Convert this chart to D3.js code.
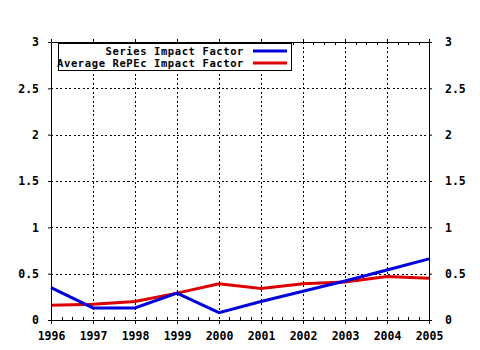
<!DOCTYPE html>
<html>
<head>
<meta charset="utf-8">
<script src="https://cdn.jsdelivr.net/npm/d3@7"></script>
<style>
  body { margin: 0; background: #fff; }
  text { font-family: "DejaVu Sans Mono", monospace; font-weight: bold; font-size: 11.5px; fill: #000; }
</style>
</head>
<body>
<div id="chart"></div>
<script>
// datos
const years = [1996, 1997, 1998, 1999, 2000, 2001, 2002, 2003, 2004, 2005];
const seriesImpact = [0.35, 0.13, 0.13, 0.29, 0.08, 0.20, 0.31, 0.42, 0.54, 0.66];
const avgImpact = [0.16, 0.17, 0.20, 0.29, 0.39, 0.34, 0.39, 0.41, 0.47, 0.45];
const yTicks = [0, 0.5, 1, 1.5, 2, 2.5, 3];
const seriesNames = ["Series Impact Factor", "Average RePEc Impact Factor"];
const colors = ["#0000dd", "#dd0000"];

const width = 480, height = 350;
const mLeft = 51, mRight = 429, mTop = 42, mBottom = 320;

const svg = d3.select("#chart").append("svg")
    .attr("width", width)
    .attr("height", height);

const x = d3.scaleLinear().domain([1996, 2005]).range([mLeft, mRight]);
const y = d3.scaleLinear().domain([0, 3]).range([mBottom, mTop]);

// rejilla punteada
const grid = svg.append("g")
    .attr("stroke", "#000")
    .attr("stroke-width", 1)
    .attr("stroke-dasharray", "2,2.5")
    .attr("shape-rendering", "crispEdges");
grid.selectAll("line.v").data(years.slice(1, -1)).enter().append("line")
    .attr("class", "v")
    .attr("x1", d => Math.round(x(d)) + 0.5).attr("x2", d => Math.round(x(d)) + 0.5)
    .attr("y1", mTop).attr("y2", mBottom);
grid.selectAll("line.h").data(yTicks.slice(1, -1)).enter().append("line")
    .attr("class", "h")
    .attr("x1", mLeft).attr("x2", mRight)
    .attr("y1", d => Math.round(y(d)) + 0.5).attr("y2", d => Math.round(y(d)) + 0.5);

// series
const line = d3.line().x((d, i) => x(years[i])).y(d => y(d));
[avgImpact, seriesImpact].forEach((vals, k) => {
    svg.append("path")
        .datum(vals)
        .attr("d", line)
        .attr("fill", "none")
        .attr("stroke", k === 0 ? colors[1] : colors[0])
        .attr("stroke-width", 3);
});

// ejes
const bottomAxis = d3.axisBottom(x).tickValues(years).tickFormat(d3.format("d")).tickSize(4).tickSizeOuter(0).tickPadding(8);
const topAxis = d3.axisTop(x).tickValues(years).tickFormat("").tickSize(3).tickSizeOuter(0);
const leftAxis = d3.axisLeft(y).tickValues(yTicks).tickFormat(d => d).tickSize(3).tickSizeOuter(0).tickPadding(9);
const rightAxis = d3.axisRight(y).tickValues(yTicks).tickFormat(d => d).tickSize(3).tickSizeOuter(0).tickPadding(13);

svg.append("g").attr("transform", `translate(0,${mBottom})`).call(bottomAxis);
svg.append("g").attr("transform", `translate(0,${mTop})`).call(topAxis);
svg.append("g").attr("transform", `translate(${mLeft},0)`).call(leftAxis);
svg.append("g").attr("transform", `translate(${mRight},0)`).call(rightAxis);

// marcas menores en x
const minor = [];
years.slice(0, -1).forEach(yr => { for (let j = 1; j < 4; j++) minor.push(yr + j / 4); });
svg.append("g").selectAll("line").data(minor).enter().append("line")
    .attr("x1", d => Math.round(x(d)) + 0.5).attr("x2", d => Math.round(x(d)) + 0.5)
    .attr("y1", mBottom).attr("y2", mBottom - 3)
    .attr("stroke", "#000");
svg.append("g").selectAll("line").data(minor).enter().append("line")
    .attr("x1", d => Math.round(x(d)) + 0.5).attr("x2", d => Math.round(x(d)) + 0.5)
    .attr("y1", mTop).attr("y2", mTop + 3)
    .attr("stroke", "#000");

svg.selectAll(".domain").attr("stroke", "#000");
svg.selectAll(".tick line").attr("stroke", "#000");
svg.selectAll(".tick text")
    .attr("fill", "#000")
    .style("font-family", "DejaVu Sans Mono")
    .style("font-weight", "bold")
    .style("font-size", "11.5px");

// leyenda
const legend = svg.append("g");
legend.append("rect")
    .attr("x", 58.5).attr("y", 43.5).attr("width", 233).attr("height", 27)
    .attr("fill", "#fff").attr("stroke", "#000");
seriesNames.forEach((name, i) => {
    const ly = 51 + i * 12;
    legend.append("text")
        .attr("x", 244).attr("y", ly).attr("dy", "0.35em")
        .attr("text-anchor", "end")
        .style("font-size", "10.5px")
        .style("letter-spacing", "0.6px")
        .text(name);
    legend.append("line")
        .attr("x1", 253).attr("x2", 287)
        .attr("y1", ly).attr("y2", ly)
        .attr("stroke", colors[i]).attr("stroke-width", 3);
});
</script>
</body>
</html>
